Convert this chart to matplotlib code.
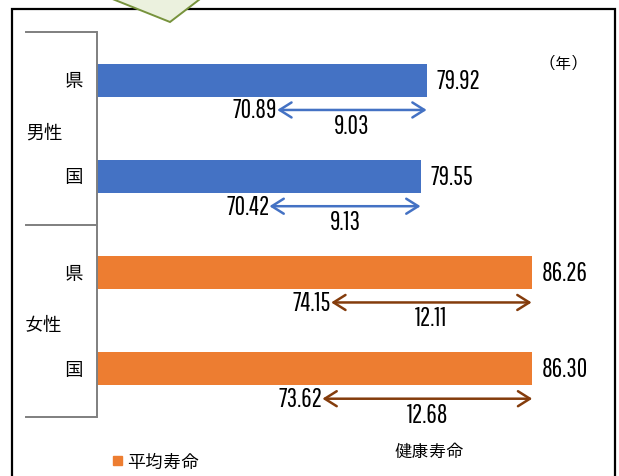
import matplotlib
matplotlib.use("Agg")
import matplotlib.pyplot as plt
from matplotlib import transforms
from matplotlib.patches import Rectangle, Polygon, FancyArrowPatch
from matplotlib.lines import Line2D

plt.rcParams['font.family'] = ['IPAGothic', 'Noto Sans CJK JP', 'DejaVu Sans']

# --- data -------------------------------------------------------------
genders = ['男性', '女性']
regions = ['県', '国', '県', '国']
avg_life = [79.92, 79.55, 86.26, 86.30]       # 平均寿命
healthy_life = [70.89, 70.42, 74.15, 73.62]   # 健康寿命
life_gap = [9.03, 9.13, 12.11, 12.68]         # 差

bar_colors = ['#4472C4', '#4472C4', '#ED7D31', '#ED7D31']
arrow_colors = ['#4472C4', '#4472C4', '#843C0C', '#843C0C']

NUM_FONT = ['Pathway Gothic One', 'DejaVu Sans']
CJK_FONT = ['IPAGothic', 'Noto Sans CJK JP', 'DejaVu Sans']
NUM_SIZE = 18.5

W, H = 619, 477
fig = plt.figure(figsize=(W / 100, H / 100), dpi=100)


def fx(px):
    return px / W


def fy(py):
    return 1 - py / H


# plot area
ax = fig.add_axes([fx(97), fy(418), fx(597) - fx(97), fy(33) - fy(418)])
ax.set_xlim(60, 60 + 500 / 16.55)
ax.set_ylim(3.5, -0.5)
ax.set_xticks([])
ax.set_yticks([])
for s in ['top', 'right', 'bottom']:
    ax.spines[s].set_visible(False)
ax.spines['left'].set_color('#7F7F7F')
ax.spines['left'].set_linewidth(1.4)
ax.patch.set_alpha(0)

ypos = list(range(len(avg_life)))
ax.barh(ypos, [a - 60 for a in avg_life], left=60, height=0.345,
        color=bar_colors, zorder=2)

arrow_off = 0.31
for i, y in enumerate(ypos):
    ya = y + arrow_off
    arr = FancyArrowPatch((healthy_life[i], ya), (avg_life[i], ya),
                          arrowstyle='<->,head_length=0.86,head_width=0.54',
                          mutation_scale=10, shrinkA=0, shrinkB=0,
                          color=arrow_colors[i], lw=1.8, zorder=3)
    ax.add_patch(arr)
    ax.text(avg_life[i] + 0.6, y, f'{avg_life[i]:.2f}', ha='left',
            va='center', fontsize=NUM_SIZE, family=NUM_FONT)
    ax.text(healthy_life[i], ya, f'{healthy_life[i]:.2f}', ha='right',
            va='center', fontsize=NUM_SIZE, family=NUM_FONT)
    ax.text((healthy_life[i] + avg_life[i]) / 2, ya + 0.16,
            f'{life_gap[i]:.2f}', ha='center', va='center',
            fontsize=NUM_SIZE, family=NUM_FONT)

# category labels and separators
blend = transforms.blended_transform_factory(fig.transFigure, ax.transData)
for i, y in enumerate(ypos):
    ax.text(fx(83), y, regions[i], transform=blend, ha='right',
            va='center', fontsize=13.5, family=CJK_FONT)
for g, gname in enumerate(genders):
    ax.text(fx(25), 2 * g + 0.53, gname, transform=blend, ha='left',
            va='center', fontsize=13.5, family=CJK_FONT)
for ysep in [-0.5, 1.5, 3.5]:
    ax.add_line(Line2D([fx(26), fx(96)], [ysep, ysep], transform=blend,
                       color='#7F7F7F', lw=1.4, clip_on=False))

# unit
fig.text(fx(563), fy(63), '(年)', ha='center', va='center', fontsize=11.5,
         family=CJK_FONT)

# legend
fig.patches.append(Rectangle((fx(113), fy(466)), fx(9), 9 / H,
                             transform=fig.transFigure, color='#ED7D31'))
fig.text(fx(127), fy(462), '平均寿命', ha='left', va='center', fontsize=13,
         family=CJK_FONT)
fig.text(fx(429), fy(451), '健康寿命', ha='center', va='center', fontsize=12.5,
         family=CJK_FONT)

# outer frame
fig.patches.append(Rectangle((fx(11.5), fy(520)), fx(615) - fx(11.5),
                             (520 - 10) / H, transform=fig.transFigure,
                             fill=False, edgecolor='black', lw=1.6))

# callout shape at the top
fig.patches.append(Polygon([(fx(105), fy(-3)), (fx(170), fy(23)),
                            (fx(204), fy(-3))], closed=True,
                           transform=fig.transFigure, facecolor='#EBF1DE',
                           edgecolor='#77933C', lw=1.4, zorder=5))

fig.savefig('out.png', dpi=100)
